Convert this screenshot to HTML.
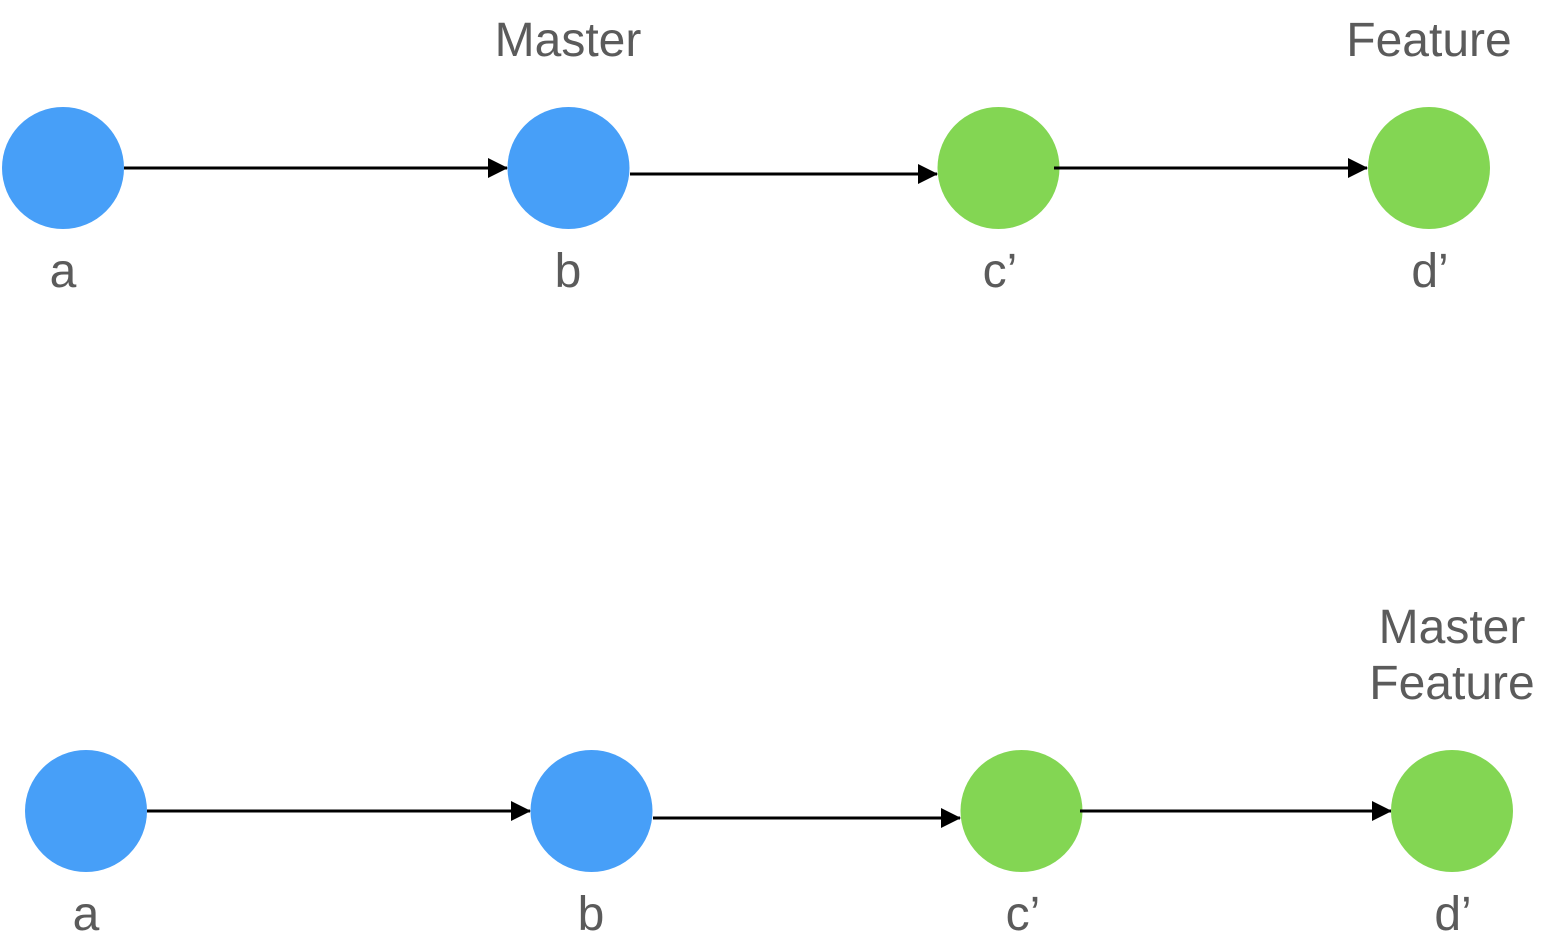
<!DOCTYPE html>
<html><head><meta charset="utf-8"><style>
html,body{margin:0;padding:0;background:#fff;width:1544px;height:950px;overflow:hidden}
text{font-family:"Liberation Sans",Arial,sans-serif;font-size:48px;fill:#5b5b5b;text-anchor:middle}
</style></head><body>
<svg width="1544" height="950" viewBox="0 0 1544 950">
<defs><marker id="ah" markerWidth="20" markerHeight="20" refX="19" refY="10" orient="auto" markerUnits="userSpaceOnUse"><path d="M0,0 L20,10 L0,20 z" fill="#000"/></marker></defs>
<g stroke="#000" stroke-width="3" fill="none">
<line x1="124" y1="168" x2="507" y2="168" marker-end="url(#ah)"/>
<line x1="630" y1="174" x2="937" y2="174" marker-end="url(#ah)"/>
<line x1="1054" y1="168" x2="1367" y2="168" marker-end="url(#ah)"/>
<line x1="147" y1="811" x2="530" y2="811" marker-end="url(#ah)"/>
<line x1="653" y1="818" x2="960" y2="818" marker-end="url(#ah)"/>
<line x1="1080" y1="811" x2="1391" y2="811" marker-end="url(#ah)"/>
</g>
<circle cx="63" cy="168" r="61" fill="#479ff8"/>
<circle cx="568.5" cy="168" r="61" fill="#479ff8"/>
<circle cx="998.5" cy="168" r="61" fill="#83d653"/>
<circle cx="1429" cy="168" r="61" fill="#83d653"/>
<circle cx="86" cy="811" r="61" fill="#479ff8"/>
<circle cx="591.5" cy="811" r="61" fill="#479ff8"/>
<circle cx="1021.5" cy="811" r="61" fill="#83d653"/>
<circle cx="1452" cy="811" r="61" fill="#83d653"/>
<line x1="1054" y1="168" x2="1060" y2="168" stroke="#000" stroke-width="3"/>
<line x1="1080" y1="811" x2="1086" y2="811" stroke="#000" stroke-width="3"/>
<text x="63" y="287">a</text>
<text x="568" y="287">b</text>
<text x="1000" y="287">c’</text>
<text x="1430" y="287">d’</text>
<text x="568" y="56">Master</text>
<text x="1429" y="56">Feature</text>
<text x="86" y="930">a</text>
<text x="591" y="930">b</text>
<text x="1023" y="930">c’</text>
<text x="1453" y="930">d’</text>
<text x="1452" y="643">Master</text>
<text x="1452" y="699">Feature</text>
</svg>
</body></html>
